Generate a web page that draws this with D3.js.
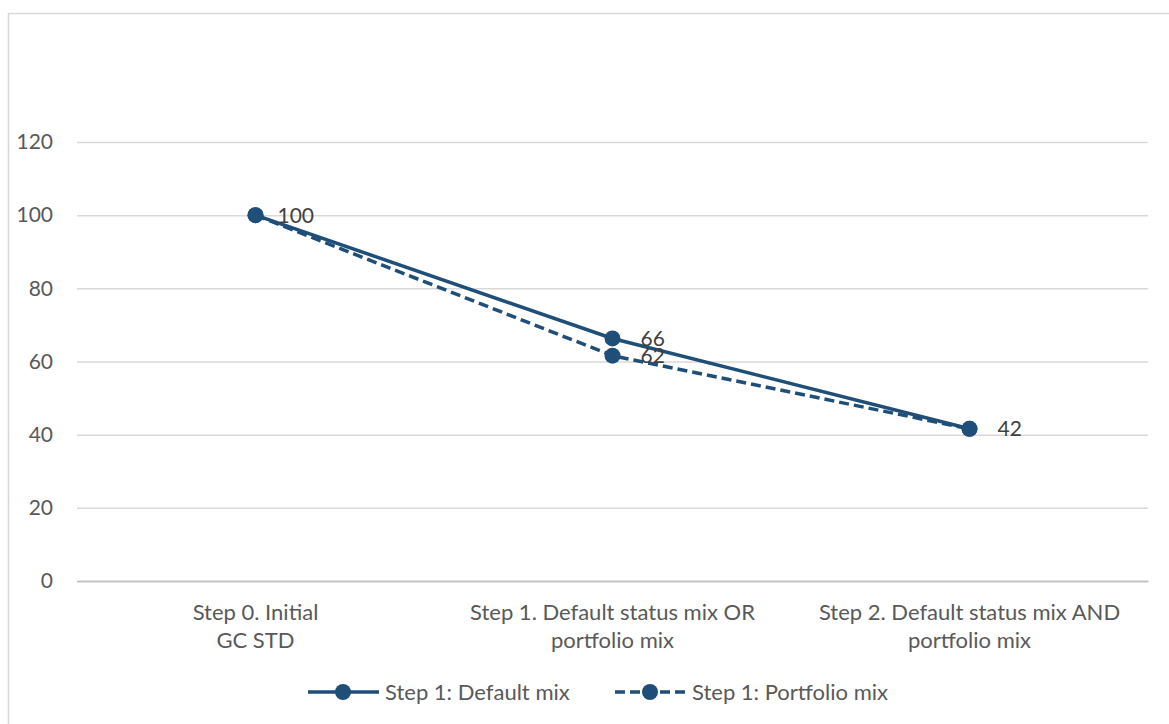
<!DOCTYPE html>
<html><head><meta charset="utf-8">
<script src="https://cdn.jsdelivr.net/npm/d3@7"></script>
<style>body{margin:0;background:#fff}svg{display:block}text{font-family:Lato,"Open Sans",sans-serif;fill:#595959}</style>
</head><body><svg id="c" width="1169" height="724"></svg>
<script>
const categories = [["Step 0. Initial","GC STD"],["Step 1. Default status mix OR","portfolio mix"],["Step 2. Default status mix AND","portfolio mix"]];
const seriesNames = ["Step 1: Default mix","Step 1: Portfolio mix"];
const defaultMix = [100, 66.3, 41.6];
const portfolioMix = [100, 61.6, 41.6];
const yTicks = [0,20,40,60,80,100,120];

const svg = d3.select("#c");
const color = "#1F4E79";
const m = {l:77, r:1148, t:142, b:581};
svg.append("rect").attr("x",8.5).attr("y",13.5).attr("width",1200).attr("height",800)
  .attr("fill","none").attr("stroke","#d9d9d9").attr("stroke-width",1.5);

const x = d3.scaleBand().domain(d3.range(categories.length)).range([m.l,m.r]);
const y = d3.scaleLinear().domain([0,120]).range([m.b,m.t]);

const yAxis = d3.axisLeft(y).tickValues(yTicks).tickSize(-(m.r-m.l)).tickPadding(24);
const gy = svg.append("g").attr("transform",`translate(${m.l},0)`).call(yAxis);
gy.select(".domain").remove();
gy.selectAll(".tick line").attr("stroke","#d9d9d9").attr("stroke-width",1.5);
gy.selectAll(".tick text").attr("font-size",21).attr("fill","#595959").style("font-family","Lato");
gy.selectAll(".tick").filter(d=>d===0).select("line").attr("stroke","#bfbfbf");

const xAxis = d3.axisBottom(x).tickSize(0).tickFormat("");
const gx = svg.append("g").attr("transform",`translate(0,${m.b})`).call(xAxis);
gx.select(".domain").attr("stroke","#bfbfbf").attr("stroke-width",1.5);
categories.forEach((c,i)=>{
  const t = svg.append("text").attr("x",x(i)+x.bandwidth()/2).attr("y",620)
    .attr("text-anchor","middle").attr("font-size",22);
  c.forEach((l,j)=>t.append("tspan").attr("x",x(i)+x.bandwidth()/2).attr("dy",j?28:0).text(l));
});

const cx = i => x(i)+x.bandwidth()/2;
const line = d3.line().x((d,i)=>cx(i)).y(d=>y(d));
const series = [{v:defaultMix,dash:null},{v:portfolioMix,dash:"10,5"}];
series.slice().reverse().forEach(s=>{
  svg.append("path").attr("d",line(s.v)).attr("fill","none").attr("stroke",color)
    .attr("stroke-width",3.5).attr("stroke-dasharray",s.dash);
});
series.forEach(s=>{
  svg.selectAll(null).data(s.v).enter().append("circle")
    .attr("cx",(d,i)=>cx(i)).attr("cy",d=>y(d)).attr("r",8).attr("fill",color);
});
const labelOffsets = [22,28,28];
const labels = [];
series.forEach((s,k)=>s.v.forEach((d,i)=>{
  if(k===0 || d!==defaultMix[i]) labels.push({i, d});
}));
svg.selectAll(null).data(labels).enter().append("text")
  .attr("x",l=>cx(l.i)+labelOffsets[l.i]).attr("y",l=>y(l.d)).attr("dy","0.35em")
  .attr("font-size",21).style("fill","#404040").text(l=>Math.round(l.d));

const leg = [{x0:308,x1:379,mx:343,tx:385,dash:null},{x0:615,x1:686,mx:650,tx:692,dash:"10,5"}];
leg.forEach((l,i)=>{
  svg.append("line").attr("x1",l.x0).attr("x2",l.x1).attr("y1",692).attr("y2",692)
    .attr("stroke",color).attr("stroke-width",3.5).attr("stroke-dasharray",l.dash);
  svg.append("circle").attr("cx",l.mx).attr("cy",692).attr("r",8).attr("fill",color);
  svg.append("text").attr("x",l.tx).attr("y",692).attr("dy","0.35em").attr("font-size",22).text(seriesNames[i]);
});
</script></body></html>
